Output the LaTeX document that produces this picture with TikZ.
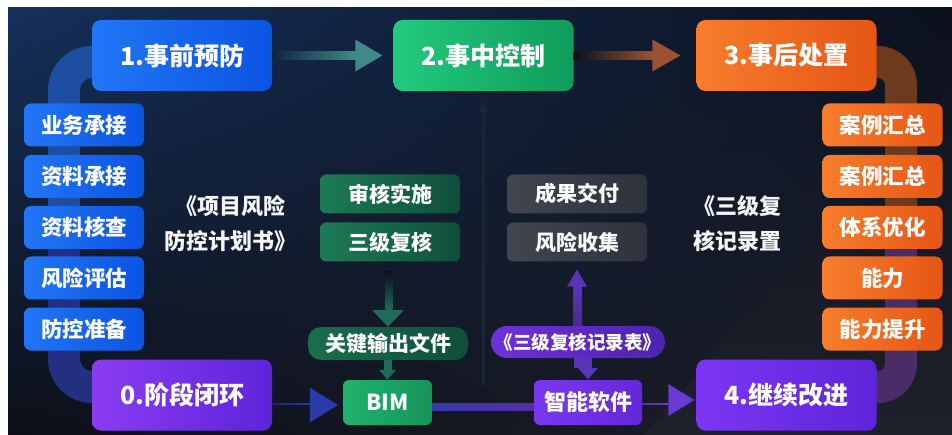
\documentclass[tikz,border=0pt]{standalone}
\usepackage{fontspec}
\setmainfont{Noto Sans CJK SC}
\usetikzlibrary{arrows.meta,calc,shadings}
\definecolor{bgA}{HTML}{15305A}
\definecolor{bgB}{HTML}{0B101C}
\definecolor{bgC}{HTML}{0C0F18}
\definecolor{bgD}{HTML}{1E202B}
\definecolor{blueL}{HTML}{2276F6}
\definecolor{blueR}{HTML}{0A54E2}
\definecolor{greenL}{HTML}{22CA7E}
\definecolor{greenR}{HTML}{0F9C5C}
\definecolor{orangeL}{HTML}{F77D2C}
\definecolor{orangeR}{HTML}{E65514}
\definecolor{purpL}{HTML}{8A3CF2}
\definecolor{purpR}{HTML}{5E24DA}
\definecolor{dgreenL}{HTML}{1C7A56}
\definecolor{dgreenR}{HTML}{0F4F3A}
\definecolor{grayL}{HTML}{41454F}
\definecolor{grayR}{HTML}{2E323C}
\definecolor{bimL}{HTML}{1FB26C}
\definecolor{bimR}{HTML}{14955A}
\definecolor{softL}{HTML}{7A38EE}
\definecolor{softR}{HTML}{6428D8}
\definecolor{pillL}{HTML}{7030DC}
\definecolor{pillR}{HTML}{4E22AE}
\definecolor{tealA}{HTML}{3F8A88}
\definecolor{brownA}{HTML}{9A5233}
\definecolor{navyA}{HTML}{2A3AA8}
\definecolor{violA}{HTML}{6A38D2}
\definecolor{vgreen}{HTML}{1E6B57}
\definecolor{vpurp}{HTML}{5A34B8}
\definecolor{bandB1}{HTML}{1D4EA2}
\definecolor{bandB2}{HTML}{232F80}
\definecolor{bandO1}{HTML}{6E3A1E}
\definecolor{bandO2}{HTML}{4A2D66}
\definecolor{faint}{HTML}{1B2538}
\tikzset{
  mainbox/.style={rounded corners=9pt, minimum width=180pt, minimum height=71pt,
    inner sep=0pt, text=white, font=\bfseries\fontsize{25}{28}\selectfont},
  listbox/.style={rounded corners=7pt, minimum width=120pt, minimum height=43pt,
    inner sep=0pt, text=white, font=\bfseries\fontsize{21.5}{24}\selectfont},
  midbox/.style={rounded corners=6pt, minimum width=140pt, minimum height=39pt,
    inner sep=0pt, text=white, font=\bfseries\fontsize{21}{24}\selectfont},
  booktext/.style={align=center, text=white!92!gray, inner sep=0pt,
    font=\bfseries\fontsize{22}{35}\selectfont},
  bluefill/.style={left color=blueL, right color=blueR},
  orangefill/.style={left color=orangeL, right color=orangeR},
}
\begin{document}
\begin{tikzpicture}[x=1pt,y=-1pt]
\useasboundingbox (0,0) rectangle (952,435);
% background
\fill[white] (0,0) rectangle (952,435);
\shade[upper left=bgA, upper right=bgB, lower left=bgC, lower right=bgD] (8,8) rectangle (952,435);
\shade[top color=bgB!70!bgD, bottom color=bgD] (952,85) -- (643,435) -- (952,435) -- cycle;
% bands
\draw[line width=32pt, bandB1, rounded corners=28pt] (110,62) -- (64,62) -- (64,240);
\draw[line width=32pt, bandB2, rounded corners=28pt] (64,230) -- (64,387) -- (110,387);
\draw[line width=32pt, bandO1, rounded corners=23pt] (860,62) -- (901,62) -- (901,240);
\draw[line width=32pt, bandO2, rounded corners=23pt] (901,230) -- (901,387) -- (860,387);
% faint vertical arrow
\coordinate (fa) at (483,385);
\coordinate (fb) at (483,100);
\draw[line width=3pt, faint, -{Triangle[width=9pt,length=12pt]}] (fa) -- (fb);
% main stage boxes
\node[mainbox, bluefill] (p1) at (182,55.5) {1.事前预防};
\node[mainbox, left color=greenL, right color=greenR] (p2) at (483.5,55.5) {2.事中控制};
\node[mainbox, orangefill] (p3) at (786.5,55.5) {3.事后处置};
\node[mainbox, left color=purpL, right color=purpR] (p0) at (182,395) {0.阶段闭环};
\node[mainbox, left color=purpL!90!blue, right color=purpR] (p4) at (786.5,395) {4.继续改进};
% left list
\node[listbox, bluefill] (l1) at (84,125) {业务承接};
\node[listbox, bluefill] (l2) at (84,176.5) {资料承接};
\node[listbox, bluefill] (l3) at (84,227.5) {资料核查};
\node[listbox, bluefill] (l4) at (84,278) {风险评估};
\node[listbox, bluefill] (l5) at (84,329) {防控准备};
% right list
\node[listbox, orangefill] (r1) at (882.5,125) {案例汇总};
\node[listbox, orangefill] (r2) at (882.5,176.5) {案例汇总};
\node[listbox, orangefill] (r3) at (882.5,227.5) {体系优化};
\node[listbox, orangefill] (r4) at (882.5,278) {能力};
\node[listbox, orangefill] (r5) at (882.5,329) {能力提升};
% book texts
\node[booktext] (bk1) at (230,224) {《项目风险\\防控计划书》};
\node[booktext] (bk2) at (737,224) {《三级复\\核记录置};
% middle boxes
\node[midbox, left color=dgreenL, right color=dgreenR] (m1) at (390,194) {审核实施};
\node[midbox, left color=dgreenL, right color=dgreenR] (m2) at (390,242) {三级复核};
\node[midbox, left color=grayL, right color=grayR] (g1) at (577,194) {成果交付};
\node[midbox, left color=grayL, right color=grayR] (g2) at (577,242) {风险收集};
\node[midbox, rounded corners=13pt, minimum width=160pt, minimum height=33pt,
      left color=dgreenL!90!black, right color=dgreenR] (key) at (388,343.5) {关键输出文件};
\node[midbox, rounded corners=6pt, minimum width=89pt, minimum height=45pt,
      left color=bimL, right color=bimR, font=\bfseries\fontsize{22}{24}\selectfont] (bim) at (387.5,402.5) {BIM};
\node[midbox, rounded corners=16pt, minimum width=174pt, minimum height=32pt,
      left color=pillL, right color=pillR, font=\bfseries\fontsize{18.5}{22}\selectfont] (pill) at (578,342) {《三级复核记录表》};
\node[midbox, rounded corners=6pt, minimum width=108pt, minimum height=45pt,
      left color=softL, right color=softR, font=\bfseries\fontsize{22}{24}\selectfont] (soft) at (588,402.5) {智能软件};
% horizontal arrows
\shade[left color=bgA!60!bgB, right color=tealA] ([yshift=-4pt]p1.east) rectangle ([xshift=-38pt,yshift=4pt]p2.west);
\fill[tealA] ([xshift=-38pt,yshift=16pt]p2.west) -- ([xshift=-11pt]p2.west) -- ([xshift=-38pt,yshift=-16pt]p2.west) -- cycle;
\shade[left color=bgB, right color=brownA] ([yshift=-4pt]p2.east) rectangle ([xshift=-44pt,yshift=4pt]p3.west);
\fill[brownA] ([xshift=-44pt,yshift=16pt]p3.west) -- ([xshift=-16pt]p3.west) -- ([xshift=-44pt,yshift=-16pt]p3.west) -- cycle;
\shade[left color=bandB2!70!bgC, right color=navyA] ([yshift=-9pt]p0.east) rectangle ([xshift=-33pt,yshift=-1pt]bim.west);
\fill[navyA] ([xshift=-33pt,yshift=15pt]bim.west) -- ([xshift=-5pt,yshift=-2.5pt]bim.west) -- ([xshift=-33pt,yshift=-20pt]bim.west) -- cycle;
\shade[left color=navyA!80!violA, right color=violA!80!black] ([yshift=-0.5pt]bim.east) rectangle ([yshift=-7.5pt]soft.west);
\shade[left color=violA!80!black, right color=violA] ([yshift=-0.5pt]soft.east) rectangle ([xshift=-28pt,yshift=-9.5pt]p4.west);
\fill[violA] ([xshift=-28pt,yshift=11pt]p4.west) -- ([xshift=-2pt,yshift=-5pt]p4.west) -- ([xshift=-28pt,yshift=-21pt]p4.west) -- cycle;
% vertical arrows
\shade[top color=bgB, bottom color=vgreen] ([xshift=-4.5pt,yshift=-10pt]m2.south) rectangle ([xshift=4.5pt,yshift=17pt]key.north);
\fill[vgreen] ([xshift=-16pt,yshift=17pt]key.north) -- (key.north) -- ([xshift=16pt,yshift=17pt]key.north) -- cycle;
\fill[vgreen] ([xshift=-4.5pt]key.south) rectangle ([xshift=4.5pt,yshift=10pt]bim.north);
\fill[vgreen] ([xshift=-8.5pt,yshift=10pt]bim.north) -- (bim.north) -- ([xshift=8.5pt,yshift=10pt]bim.north) -- cycle;
\fill[vpurp] ([xshift=-10pt,yshift=-25pt]g2.south) -- ([yshift=-8pt]g2.south) -- ([xshift=10pt,yshift=-25pt]g2.south) -- cycle;
\shade[top color=vpurp, bottom color=vpurp!80!black] ([xshift=-4pt,yshift=-25pt]g2.south) rectangle ([xshift=4pt]pill.north);
\fill[vpurp] ([xshift=-4pt]pill.south) rectangle ([xshift=4pt,yshift=12pt]soft.north);
\fill[vpurp] ([xshift=-10pt,yshift=12pt]soft.north) -- ([yshift=0.5pt]soft.north) -- ([xshift=10pt,yshift=12pt]soft.north) -- cycle;
\end{tikzpicture}
\end{document}
